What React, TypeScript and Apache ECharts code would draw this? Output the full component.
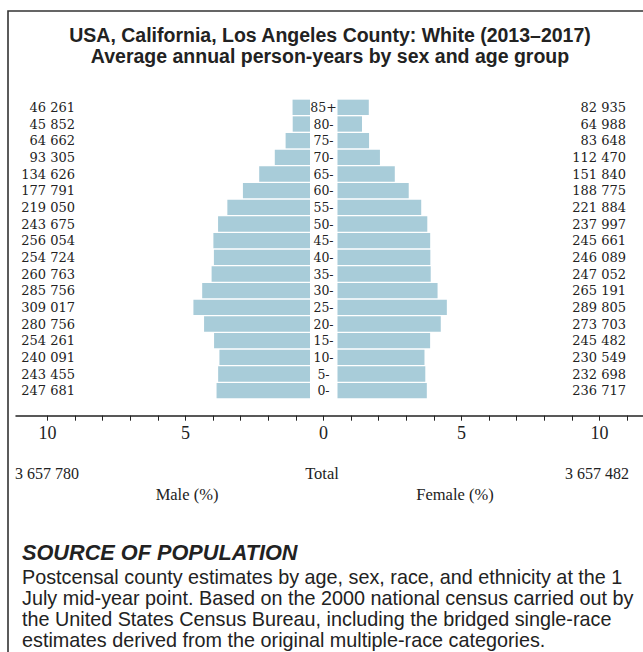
import React, { useEffect, useRef } from "react";
import * as echarts from "echarts";

const ageGroups = ["0-", "5-", "10-", "15-", "20-", "25-", "30-", "35-", "40-", "45-", "50-", "55-", "60-", "65-", "70-", "75-", "80-", "85+"];
const maleValues = [247681, 243455, 240091, 254261, 280756, 309017, 285756, 260763, 254724, 256054, 243675, 219050, 177791, 134626, 93305, 64662, 45852, 46261];
const femaleValues = [236717, 232698, 230549, 245482, 273703, 289805, 265191, 247052, 246089, 245661, 237997, 221884, 188775, 151840, 112470, 83648, 64988, 82935];
const maleTotal = 3657780;
const femaleTotal = 3657482;
const axisTicks = [-10, -9, -8, -7, -6, -5, -4, -3, -2, -1, 0, 1, 2, 3, 4, 5, 6, 7, 8, 9, 10, 11];
const axisTickLabels = [-10, -5, 0, 5, 10];

const titleLine1 = "USA, California, Los Angeles County: White (2013\u20132017)";
const titleLine2 = "Average annual person-years by sex and age group";
const sourceHeading = "SOURCE OF POPULATION";
const sourceLines = [
  "Postcensal county estimates by age, sex, race, and ethnicity at the 1",
  "July mid-year point. Based on the 2000 national census carried out by",
  "the United States Census Bureau, including the bridged single-race",
  "estimates derived from the original multiple-race categories.",
];

const fmt = (n: number) => String(n).replace(/\B(?=(\d{3})+(?!\d))/g, " ");

const SERIF = "'Liberation Serif', 'DejaVu Serif', serif";
const ROWSERIF = "'DejaVu Serif', 'Liberation Serif', serif";
const SANS = "'Liberation Sans', Arial, sans-serif";
const BAR = "#a8ccd9";
const INK = "#222222";

export default function App() {
  const ref = useRef<HTMLDivElement>(null);
  useEffect(() => {
    if (!ref.current) return;
    const chart = echarts.init(ref.current, null, { renderer: "svg" });
    const malePct = maleValues.map((v) => (v / maleTotal) * 100);
    const femalePct = femaleValues.map((v) => (v / femaleTotal) * 100);
    const axisLeft = 16;
    const zeroX = 323.5;
    const pxPerUnit = 27.6;
    const axisMin = -(zeroX - axisLeft) / pxPerUnit;
    const axisMax = (643 - zeroX) / pxPerUnit;
    const numFont = { fontFamily: ROWSERIF, fontSize: 13, color: INK };
    const ageFont = { fontFamily: ROWSERIF, fontSize: 12.5, color: INK };

    chart.setOption({
      animation: false,
      backgroundColor: "#ffffff",
      title: {
        text: titleLine1 + "\n" + titleLine2,
        left: 330,
        top: 24.5,
        padding: 0,
        textAlign: "center",
        textStyle: { fontFamily: SANS, fontSize: 19.5, fontWeight: "bold", color: INK, lineHeight: 21 },
      },
      grid: [
        { left: 34, width: 276, top: 99, height: 300 },
        { left: 337.5, width: 276, top: 99, height: 300 },
        { left: axisLeft, right: 0, top: 405, height: 10.7 },
      ],
      xAxis: [
        { gridIndex: 0, type: "value", inverse: true, min: 0, max: 20, show: false },
        { gridIndex: 1, type: "value", min: 0, max: 20, show: false },
        {
          gridIndex: 2,
          type: "value",
          min: axisMin,
          max: axisMax,
          position: "bottom",
          axisLine: { show: true, lineStyle: { color: INK, width: 1.5 } },
          axisTick: { show: true, length: 5, customValues: axisTicks, lineStyle: { color: INK, width: 1 } },
          axisLabel: {
            show: true,
            customValues: axisTickLabels,
            formatter: (v: number) => String(Math.abs(v)),
            margin: 8,
            fontFamily: SERIF,
            fontSize: 18,
            color: INK,
          },
          splitLine: { show: false },
        },
      ],
      yAxis: [
        {
          gridIndex: 0,
          type: "category",
          data: ageGroups,
          position: "left",
          offset: -41,
          axisLine: { show: false },
          axisTick: { show: false },
          axisLabel: {
            interval: 0,
            margin: 0,
            formatter: (_v: string, i: number) => fmt(maleValues[i]),
            ...numFont,
          },
        },
        {
          gridIndex: 0,
          type: "category",
          data: ageGroups,
          position: "right",
          axisLine: { show: false },
          axisTick: { show: false },
          axisLabel: { interval: 0, margin: 13.5, align: "center", ...ageFont },
        },
        {
          gridIndex: 1,
          type: "category",
          data: ageGroups,
          position: "right",
          axisLine: { show: false },
          axisTick: { show: false },
          axisLabel: {
            interval: 0,
            margin: 12.5,
            align: "right",
            formatter: (_v: string, i: number) => fmt(femaleValues[i]),
            ...numFont,
          },
        },
        { gridIndex: 2, type: "value", show: false, min: 0, max: 1 },
      ],
      series: [
        {
          name: "Male",
          type: "bar",
          xAxisIndex: 0,
          yAxisIndex: 0,
          data: malePct,
          barCategoryGap: "8%",
          itemStyle: { color: BAR },
        },
        {
          name: "Female",
          type: "bar",
          xAxisIndex: 1,
          yAxisIndex: 2,
          data: femalePct,
          barCategoryGap: "8%",
          itemStyle: { color: BAR },
        },
      ],
      graphic: [
        {
          type: "polyline",
          shape: { points: [[8, 652], [8, 11], [643, 11]] },
          style: { stroke: "#333333", lineWidth: 1.6, fill: null },
        },
        {
          type: "text",
          x: 15,
          y: 473,
          style: { text: fmt(maleTotal), font: `16px ${SERIF}`, fill: INK, textAlign: "left", textVerticalAlign: "middle" },
        },
        {
          type: "text",
          x: 322,
          y: 473,
          style: { text: "Total", font: `16.5px ${SERIF}`, fill: INK, textAlign: "center", textVerticalAlign: "middle" },
        },
        {
          type: "text",
          x: 629,
          y: 473,
          style: { text: fmt(femaleTotal), font: `16px ${SERIF}`, fill: INK, textAlign: "right", textVerticalAlign: "middle" },
        },
        {
          type: "text",
          x: 187,
          y: 494,
          style: { text: "Male (%)", font: `16.5px ${SERIF}`, fill: INK, textAlign: "center", textVerticalAlign: "middle" },
        },
        {
          type: "text",
          x: 455,
          y: 494,
          style: { text: "Female (%)", font: `16.5px ${SERIF}`, fill: INK, textAlign: "center", textVerticalAlign: "middle" },
        },
        {
          type: "text",
          x: 22,
          y: 552,
          style: { text: sourceHeading, font: `italic bold 21.7px ${SANS}`, fill: INK, textAlign: "left", textVerticalAlign: "middle" },
        },
        {
          type: "text",
          x: 22,
          y: 566.5,
          style: {
            text: sourceLines.join("\n"),
            font: `19.8px ${SANS}`,
            lineHeight: 21,
            fill: INK,
            textAlign: "left",
            textVerticalAlign: "top",
          },
        },
      ],
    });
    return () => chart.dispose();
  }, []);
  return <div ref={ref} style={{ position: "fixed", left: 0, top: 0, width: 643, height: 652 }} />;
}
